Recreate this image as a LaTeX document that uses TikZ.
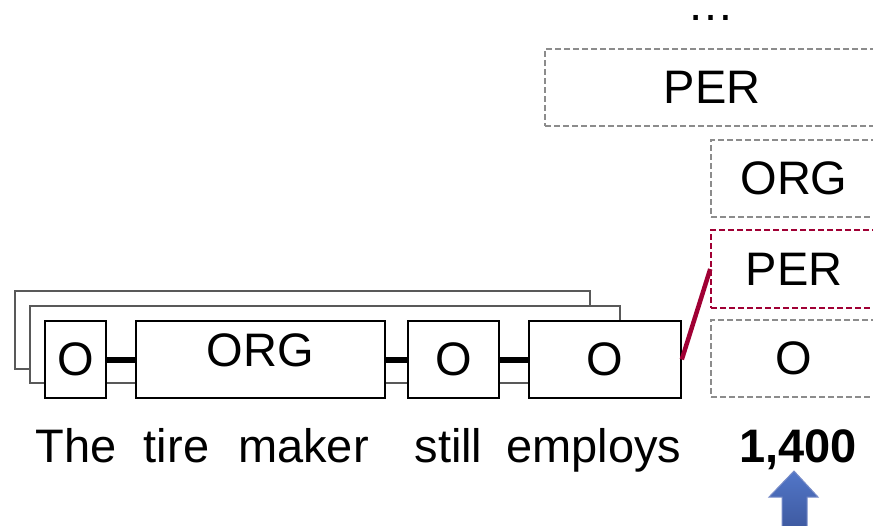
\documentclass[tikz,border=0pt]{standalone}
\usepackage{fontspec}
\setmainfont{Liberation Sans}
\begin{document}
\begin{tikzpicture}[x=1pt,y=-1pt,
  every node/.style={font=\fontsize{47}{56}\selectfont},
  tagbox/.style={draw=black,line width=1.6pt,fill=white,inner sep=0pt},
  backbox/.style={draw=black!65,line width=1.3pt,fill=white},
  cand/.style={draw=black!45,line width=1.5pt,dash pattern=on 6pt off 3pt,inner sep=0pt},
  chosen/.style={cand,draw=tagred},
  link/.style={line width=6pt},
  word/.style={anchor=base,inner sep=0pt}]
\definecolor{tagred}{RGB}{160,0,52}
\useasboundingbox (0,0) rectangle (873,525);
\begin{scope}
\clip (0,0) rectangle (873,525);

% stacked earlier tag sequences
\draw[backbox] (15,291) rectangle (590,369);
\draw[backbox] (30,306) rectangle (620,383);

% current tag sequence
\node[tagbox,minimum width=61pt,minimum height=77pt] (o1) at (75.5,359.5) {O};
\node[tagbox,minimum width=249pt,minimum height=77pt] (org) at (260.5,359.5) {};
\node[inner sep=0pt] (orgtxt) at (260.5,350.5) {ORG};
\node[tagbox,minimum width=91pt,minimum height=77pt] (o2) at (453.5,359.5) {O};
\node[tagbox,minimum width=152pt,minimum height=77pt] (o3) at (605,359.5) {O};
\draw[link] (o1.east) -- (org.west);
\draw[link] (org.east) -- (o2.west);
\draw[link] (o2.east) -- (o3.west);

% candidate tags for the next word
\node[word] (dots) at (711,20) {\ldots};
\node[cand,minimum width=334pt,minimum height=77pt] (perA) at (712,87.5) {PER};
\node[cand,minimum width=166pt,minimum height=77pt] (orgB) at (794,178.5) {ORG};
\node[chosen,minimum width=166pt,minimum height=78pt] (perB) at (794,269) {PER};
\node[cand,minimum width=166pt,minimum height=77pt] (oB) at (794,358.5) {O};
\draw[tagred,line width=4.5pt] (o3.east) -- (perB.west);

% sentence
\node[word] (w1) at (76,462) {The};
\node[word] (w2) at (176.5,462) {tire};
\node[word] (w3) at (303.5,462) {maker};
\node[word] (w4) at (448.5,462) {still};
\node[word] (w5) at (594,462) {employs};
\node[word] (w6) at (798,462) {\bfseries 1,400};

% pointer to the current word
\draw[draw={rgb,255:red,120;green,140;blue,200},line width=1pt,
      top color={rgb,255:red,82;green,118;blue,200},
      bottom color={rgb,255:red,58;green,84;blue,152}]
  (794,471) -- (818,497) -- (807,497) -- (807,540) -- (782,540)
  -- (782,497) -- (769,497) -- cycle;
\end{scope}
\end{tikzpicture}
\end{document}
